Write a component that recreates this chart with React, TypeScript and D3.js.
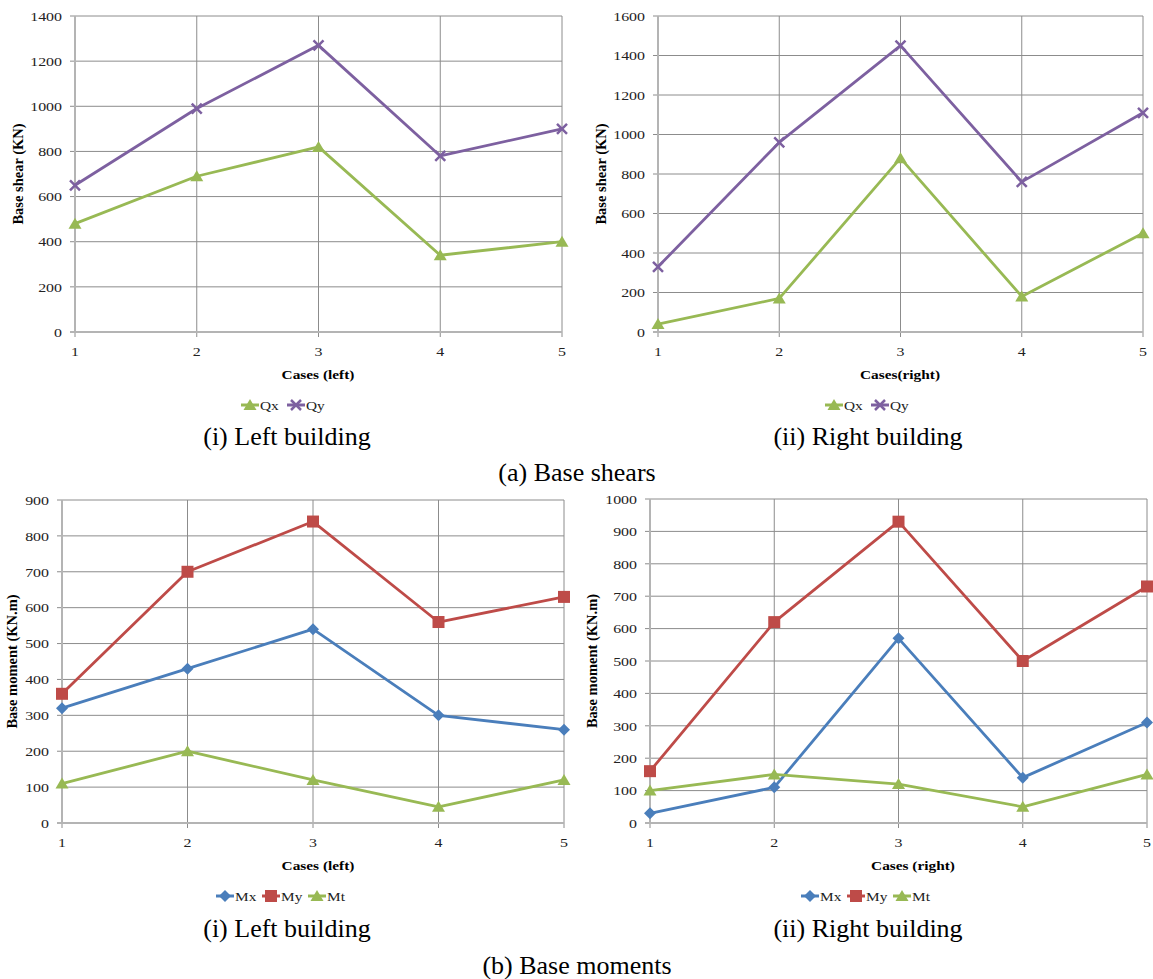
import React, { useEffect, useRef } from "react";
import * as d3 from "d3";

const cases = [1, 2, 3, 4, 5];

const qxLeft = [480, 690, 820, 340, 400];
const qyLeft = [650, 990, 1270, 780, 900];
const qxRight = [40, 170, 880, 180, 500];
const qyRight = [330, 960, 1450, 760, 1110];

const mxLeft = [320, 430, 540, 300, 260];
const myLeft = [360, 700, 840, 560, 630];
const mtLeft = [110, 200, 120, 45, 120];
const mxRight = [30, 110, 570, 140, 310];
const myRight = [160, 620, 930, 500, 730];
const mtRight = [100, 150, 120, 50, 150];

const BLUE = "#4a7ebb";
const RED = "#be4b48";
const GREEN = "#98b954";
const PURPLE = "#7d60a0";
const GRID = "#8c8c8c";
const FONT = "Liberation Serif";
const SX = 1.18; // chart text looks stretched sideways in the reference

type Series = { name: string; values: number[]; color: string; marker: string };

type Panel = {
  x0: number; x1: number; y0: number; y1: number;
  yMax: number; yStep: number;
  yTitle: string; yTitleGap: number; xTitle: string; xTitleX: number;
  legendX: number; legendY: number; caption: string; captionX: number; captionY: number;
  series: Series[];
};

const panels: Panel[] = [
  {
    x0: 75, x1: 562, y0: 16, y1: 332, yMax: 1400, yStep: 200,
    yTitle: "Base shear (KN)", yTitleGap: 52, xTitle: "Cases (left)", xTitleX: 318,
    legendX: 287, legendY: 405, caption: "(i) Left building", captionX: 287, captionY: 445,
    series: [
      { name: "Qx", values: qxLeft, color: GREEN, marker: "triangle" },
      { name: "Qy", values: qyLeft, color: PURPLE, marker: "cross" },
    ],
  },
  {
    x0: 658, x1: 1143, y0: 16, y1: 332, yMax: 1600, yStep: 200,
    yTitle: "Base shear (KN)", yTitleGap: 52, xTitle: "Cases(right)", xTitleX: 900,
    legendX: 871, legendY: 405, caption: "(ii) Right building", captionX: 868, captionY: 445,
    series: [
      { name: "Qx", values: qxRight, color: GREEN, marker: "triangle" },
      { name: "Qy", values: qyRight, color: PURPLE, marker: "cross" },
    ],
  },
  {
    x0: 62, x1: 564, y0: 500, y1: 823, yMax: 900, yStep: 100,
    yTitle: "Base moment (KN.m)", yTitleGap: 45, xTitle: "Cases (left)", xTitleX: 318,
    legendX: 285, legendY: 896, caption: "(i) Left building", captionX: 287, captionY: 937,
    series: [
      { name: "Mx", values: mxLeft, color: BLUE, marker: "diamond" },
      { name: "My", values: myLeft, color: RED, marker: "square" },
      { name: "Mt", values: mtLeft, color: GREEN, marker: "triangle" },
    ],
  },
  {
    x0: 650, x1: 1147, y0: 499, y1: 823, yMax: 1000, yStep: 100,
    yTitle: "Base moment (KN.m)", yTitleGap: 53, xTitle: "Cases (right)", xTitleX: 913,
    legendX: 870, legendY: 896, caption: "(ii) Right building", captionX: 868, captionY: 937,
    series: [
      { name: "Mx", values: mxRight, color: BLUE, marker: "diamond" },
      { name: "My", values: myRight, color: RED, marker: "square" },
      { name: "Mt", values: mtRight, color: GREEN, marker: "triangle" },
    ],
  },
];

function drawMarker(g: any, kind: string, x: number, y: number, color: string) {
  if (kind === "triangle") {
    g.append("path").attr("d", `M${x},${y - 6}L${x + 6.5},${y + 5}L${x - 6.5},${y + 5}Z`).attr("fill", color);
  } else if (kind === "square") {
    g.append("rect").attr("x", x - 6).attr("y", y - 6).attr("width", 12).attr("height", 12).attr("fill", color);
  } else if (kind === "diamond") {
    g.append("path").attr("d", `M${x},${y - 6}L${x + 6},${y}L${x},${y + 6}L${x - 6},${y}Z`).attr("fill", color);
  } else {
    g.append("path").attr("d", `M${x - 5},${y - 5}L${x + 5},${y + 5}M${x + 5},${y - 5}L${x - 5},${y + 5}`)
      .attr("stroke", color).attr("stroke-width", 2.5);
  }
}

export default function App() {
  const ref = useRef<SVGSVGElement>(null);

  useEffect(() => {
    const svg = d3.select(ref.current);
    svg.selectAll("*").remove();

    panels.forEach((p) => {
      const x = d3.scalePoint<number>().domain(cases).range([p.x0, p.x1]);
      const y = d3.scaleLinear().domain([0, p.yMax]).range([p.y1, p.y0]);
      const yTicks = d3.range(0, p.yMax + 1, p.yStep);
      const g = svg.append("g");

      // horizontal grid
      g.selectAll(".hg").data(yTicks).enter().append("line")
        .attr("x1", p.x0 - 5).attr("x2", p.x1)
        .attr("y1", (d) => y(d)).attr("y2", (d) => y(d))
        .attr("stroke", GRID).attr("stroke-width", 1);
      // vertical grid
      g.selectAll(".vg").data(cases).enter().append("line")
        .attr("x1", (d) => x(d)!).attr("x2", (d) => x(d)!)
        .attr("y1", p.y0).attr("y2", p.y1 + 5)
        .attr("stroke", GRID).attr("stroke-width", 1);
      // axes
      g.append("line").attr("x1", p.x0).attr("x2", p.x0).attr("y1", p.y0).attr("y2", p.y1)
        .attr("stroke", "#b4b4b4").attr("stroke-width", 2);
      g.append("line").attr("x1", p.x0 - 5).attr("x2", p.x1).attr("y1", p.y1).attr("y2", p.y1)
        .attr("stroke", "#b4b4b4").attr("stroke-width", 2);

      g.selectAll(".yl").data(yTicks).enter().append("text")
        .attr("transform", (d) => `translate(${p.x0 - 13},${y(d)}) scale(${SX},1)`).attr("dy", "0.35em")
        .attr("text-anchor", "end").style("font-family", FONT).attr("font-size", 13.5)
        .attr("fill", "#222").text((d) => d);
      g.selectAll(".xl").data(cases).enter().append("text")
        .attr("transform", (d) => `translate(${x(d)},${p.y1 + 24}) scale(${SX},1)`)
        .attr("text-anchor", "middle").style("font-family", FONT).attr("font-size", 13.5)
        .attr("fill", "#222").text((d) => d);

      g.append("text")
        .attr("transform", `translate(${p.x0 - p.yTitleGap},${(p.y0 + p.y1) / 2}) rotate(-90)`)
        .attr("text-anchor", "middle").style("font-family", FONT).attr("font-size", 14.5)
        .attr("font-weight", "bold").text(p.yTitle);
      g.append("text")
        .attr("transform", `translate(${p.xTitleX},${p.y1 + 47}) scale(${SX},1)`)
        .attr("text-anchor", "middle").style("font-family", FONT).attr("font-size", 13)
        .attr("font-weight", "bold").text(p.xTitle);

      const line = d3.line<number>().x((_, i) => x(cases[i])!).y((d) => y(d));
      p.series.forEach((s) => {
        g.append("path").attr("d", line(s.values)).attr("fill", "none")
          .attr("stroke", s.color).attr("stroke-width", 2.8).attr("stroke-linejoin", "round");
        s.values.forEach((v, i) => drawMarker(g, s.marker, x(cases[i])!, y(v), s.color));
      });

      // legend
      const itemW = 46;
      const startX = p.legendX - (p.series.length * itemW) / 2;
      p.series.forEach((s, i) => {
        const lx = startX + i * itemW;
        g.append("line").attr("x1", lx).attr("x2", lx + 18).attr("y1", p.legendY).attr("y2", p.legendY)
          .attr("stroke", s.color).attr("stroke-width", 3);
        drawMarker(g, s.marker, lx + 9, p.legendY, s.color);
        g.append("text")
          .attr("transform", `translate(${lx + 19},${p.legendY}) scale(${SX},1)`).attr("dy", "0.35em")
          .style("font-family", FONT).attr("font-size", 13).attr("fill", "#222").text(s.name);
      });

      g.append("text").attr("x", p.captionX).attr("y", p.captionY)
        .attr("text-anchor", "middle").style("font-family", FONT).attr("font-size", 26)
        .text(p.caption);
    });

    svg.append("text").attr("x", 577).attr("y", 481).attr("text-anchor", "middle")
      .style("font-family", FONT).attr("font-size", 26).text("(a) Base shears");
    svg.append("text").attr("x", 577).attr("y", 974).attr("text-anchor", "middle")
      .style("font-family", FONT).attr("font-size", 26).text("(b) Base moments");
  }, []);

  return (
    <svg ref={ref} width={1153} height={979}
      style={{ position: "absolute", left: 0, top: 0, background: "#fff" }} />
  );
}
